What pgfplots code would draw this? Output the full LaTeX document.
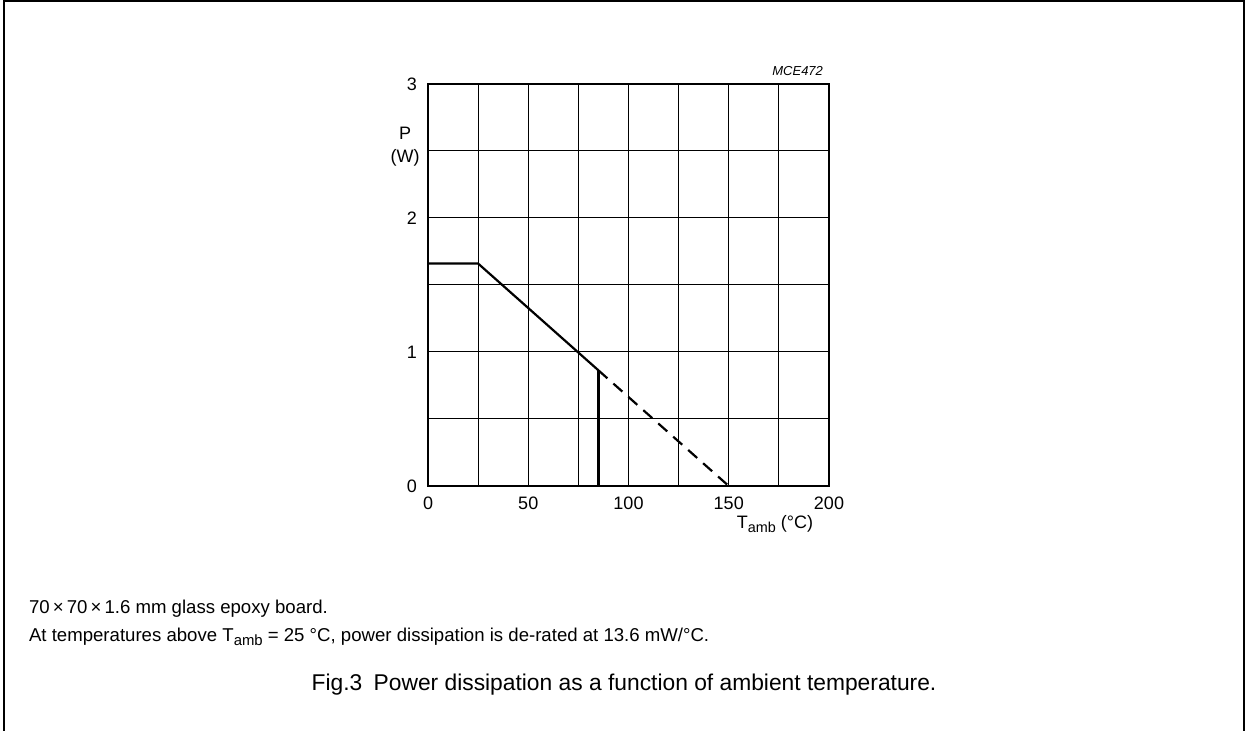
\documentclass[border=0pt]{standalone}
\usepackage{pgfplots}
\pgfplotsset{compat=1.18}
\usepackage{fontspec}
\setmainfont{Liberation Sans}
\newcommand{\sub}[1]{\raisebox{-0.45ex}{\scalebox{0.8}{#1}}}
\begin{document}
\begin{tikzpicture}[x=0.5pt,y=0.5pt]
\path[use as bounding box] (0,0) rectangle (1247,731);
\draw[line width=1.2pt] (4,0) -- (4,730) -- (1244,730) -- (1244,0);
\begin{axis}[
  at={(214pt,122.5pt)}, anchor=south west,
  scale only axis, width=200.5pt, height=201pt,
  xmin=0, xmax=200, ymin=0, ymax=3,
  xtick={0,50,100,150,200}, minor xtick={25,75,125,175},
  ytick={0,1,2,3}, minor ytick={0.5,1.5,2.5},
  grid=both,
  grid style={black, line width=0.5pt},
  minor grid style={black, line width=0.5pt},
  major tick length=0pt, minor tick length=0pt,
  axis line style={line width=0.6pt},
  tick label style={font=\fontsize{9}{10}\selectfont},
  /pgf/number format/assume math mode=true,
  xticklabel style={yshift=-2pt},
  yticklabel style={xshift=-2pt},
  clip=false,
]
\addplot[black, line width=1.1pt] coordinates {(0,1.66) (25,1.66) (85,0.863)};
\addplot[black, line width=1.1pt] coordinates {(85,0.863) (85,0)};
\addplot[black, line width=1.1pt, dash pattern=on 6pt off 4pt] coordinates {(85,0.863) (150,0)};
\end{axis}
\node[font=\fontsize{9}{10}\selectfont] at (405,598) {P};
\node[font=\fontsize{9}{10}\selectfont] at (405,573) {(W)};
\node[font=\fontsize{6.5}{7}\itshape, anchor=east] at (830,660) {MCE472};
\node[font=\fontsize{9}{10}\selectfont] at (775,207) {T\sub{amb} (\textdegree C)};
\node[font=\fontsize{9.3}{10}\selectfont, anchor=west] at (22,122) {70\,\texttimes\,70\,\texttimes\,1.6 mm glass epoxy board.};
\node[font=\fontsize{9.3}{10}\selectfont, anchor=west] at (22,94) {At temperatures above T\sub{amb} = 25 \textdegree C, power dissipation is de-rated at 13.6 mW/\textdegree C.};
\node[font=\fontsize{11.4}{13}\selectfont] at (624,46) {Fig.3\enspace Power dissipation as a function of ambient temperature.};
\end{tikzpicture}
\end{document}
